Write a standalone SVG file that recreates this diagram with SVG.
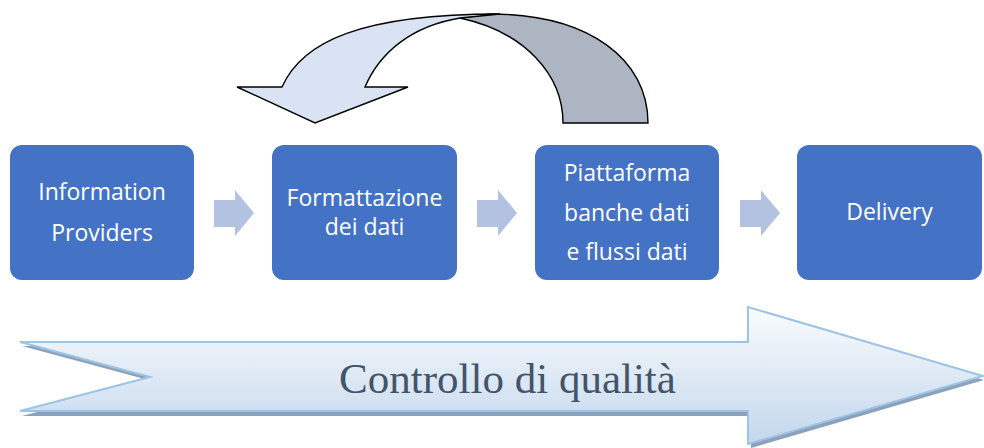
<svg xmlns="http://www.w3.org/2000/svg" width="984" height="448" viewBox="0 0 984 448">
<defs>
<linearGradient id="qg" x1="0" y1="0" x2="0" y2="1">
<stop offset="0" stop-color="#FAFCFE"/>
<stop offset="1" stop-color="#C3D7ED"/>
</linearGradient>
<style>
.box{fill:#4472C4;}
.bt{font-family:"Open Sans","Noto Sans",sans-serif;font-size:23px;fill:#FFFFFF;text-anchor:middle;}
.sa{fill:#B4C2E2;}
.curve{stroke:#000;stroke-width:1.4;stroke-linejoin:miter;}
</style>
</defs>
<rect width="984" height="448" fill="#FFFFFF"/>

<g id="feedback-arrow">
<path class="curve" fill="#ADB4C2" d="M 490,14 C 590,14 648,60 648,123 L 563,123 C 563,75 525,32 460,18 Z"/>
<path class="curve" fill="#DAE3F3" d="M 237,87 L 282,87 C 302,42 360,14 500,14 L 460,18 C 412,26 380,52 365,87 L 408,87 L 315,123 Z"/>
</g>

<g id="connectors">
<path class="sa" d="M 214,200 L 235,200 L 235,190 L 254,213 L 235,236 L 235,227 L 214,227 Z"/>
<path class="sa" d="M 477,200 L 498,200 L 498,190 L 517,213 L 498,236 L 498,227 L 477,227 Z"/>
<path class="sa" d="M 740,200 L 761,200 L 761,190 L 780,213 L 761,236 L 761,227 L 740,227 Z"/>
</g>

<g id="node-information-providers">
<rect class="box" x="10" y="145" width="184" height="135" rx="12"/>
<text class="bt" x="102" y="200">Information</text>
<text class="bt" x="102" y="241">Providers</text>
</g>
<g id="node-formattazione">
<rect class="box" x="272" y="145" width="185" height="135" rx="12"/>
<text class="bt" x="364.5" y="206">Formattazione</text>
<text class="bt" x="364.5" y="235">dei dati</text>
</g>
<g id="node-piattaforma">
<rect class="box" x="535" y="145" width="184" height="135" rx="12"/>
<text class="bt" x="627" y="181">Piattaforma</text>
<text class="bt" x="627" y="221">banche dati</text>
<text class="bt" x="627" y="260">e flussi dati</text>
</g>
<g id="node-delivery">
<rect class="box" x="797" y="145" width="185" height="135" rx="12"/>
<text class="bt" x="889.5" y="220">Delivery</text>
</g>

<g id="quality-arrow">
<path fill="#8DA1B8" d="M 22,346 L 751,346 L 751,311 L 984,380 L 751,448 L 751,416 L 22,416 L 152,381 Z"/>
<path fill="url(#qg)" stroke="#9DC3E6" stroke-width="2" d="M 20,342 L 748,342 L 748,307 L 983,376 L 748,444 L 748,411 L 20,411 L 150,377 Z"/>
<text x="507.5" y="393" font-family="'Liberation Serif',serif" font-size="43" fill="#44546A" text-anchor="middle">Controllo di qualità</text>
</g>
</svg>
